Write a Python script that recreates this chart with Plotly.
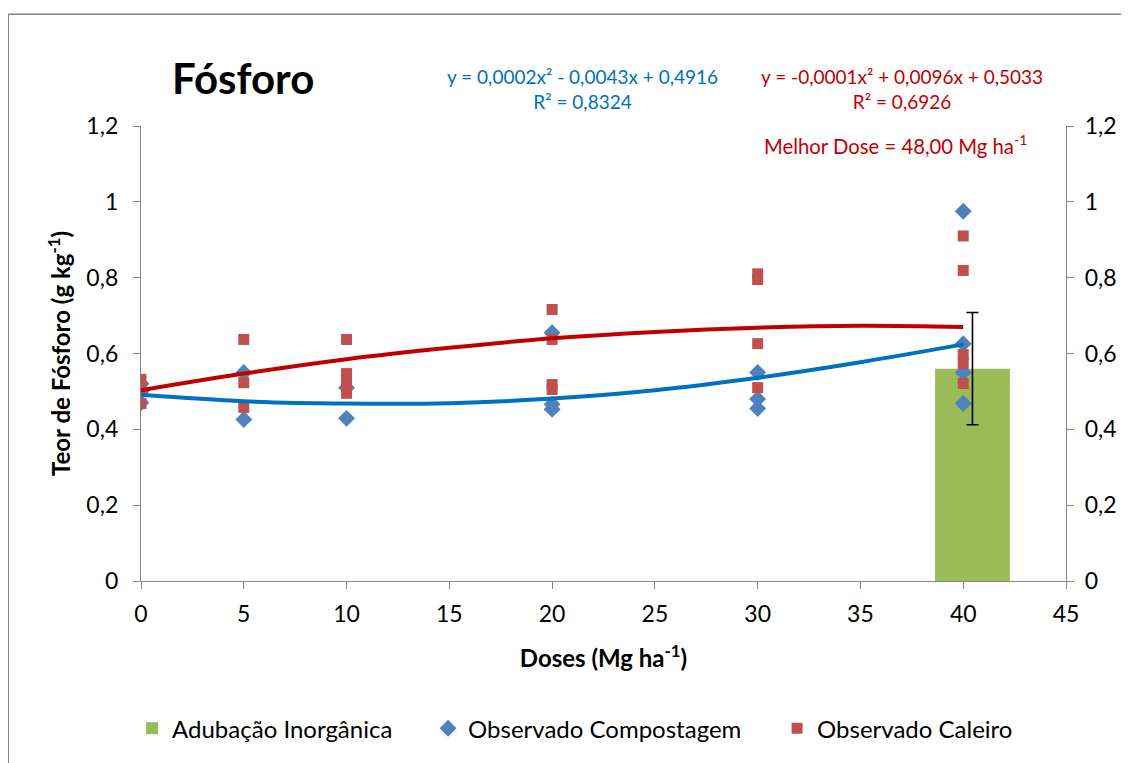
import plotly.graph_objects as go

# observed values (g kg-1) per dose (Mg ha-1)
doses_comp = [0, 0, 0, 5, 5, 10, 10, 20, 20, 20, 30, 30, 30, 40, 40, 40, 40]
teor_comp = [0.52, 0.50, 0.47, 0.55, 0.426, 0.51, 0.429, 0.655, 0.466, 0.453,
             0.55, 0.48, 0.455, 0.975, 0.626, 0.55, 0.468]

doses_cal = [0, 0, 0, 5, 5, 5, 10, 10, 10, 10, 10, 20, 20, 20, 20,
             30, 30, 30, 30, 40, 40, 40, 40, 40]
teor_cal = [0.532, 0.508, 0.468, 0.637, 0.523, 0.458, 0.637, 0.547, 0.529, 0.513, 0.495,
            0.716, 0.637, 0.518, 0.505, 0.81, 0.795, 0.626, 0.51, 0.91, 0.819, 0.597, 0.574, 0.521]

# trendlines
curve_x = [0, 5, 10, 15, 20, 25, 30, 35, 40]
curve_comp = [0.491, 0.474, 0.468, 0.469, 0.481, 0.503, 0.536, 0.577, 0.624]
curve_cal = [0.503, 0.547, 0.585, 0.615, 0.640, 0.657, 0.668, 0.673, 0.670]

# inorganic fertilization bar
bar_x = [40.45]
bar_y = [0.56]
bar_err = [0.148]

FONT = "Lato"
BLUE_TXT = "#0070C0"
RED_TXT = "#C00000"
GRAY = "#868686"
NB = "\u00a0"

# page body adds 8px, so the figure is shrunk by 8px to avoid scrollbars
FW, FH = 1121, 755
L, T, W, H = 141, 126, 927, 456


def px(x):
    return (x - L) / W


def py(y):
    return (T + H - y) / H


fig = go.Figure()

fig.add_trace(go.Bar(
    x=bar_x, y=bar_y, width=3.64,
    marker=dict(color="#9BBB59", line=dict(width=0)),
    error_y=dict(type="data", array=bar_err, color="black", thickness=1.6, width=6),
    name="Adubação Inorgânica" + NB * 5
))
fig.add_trace(go.Scatter(
    x=doses_comp, y=teor_comp, mode="markers",
    marker=dict(symbol="diamond", size=13, color="#4F81BD"),
    name="Observado Compostagem" + NB * 5
))
fig.add_trace(go.Scatter(
    x=doses_cal, y=teor_cal, mode="markers",
    marker=dict(symbol="square", size=11, color="#C0504D"),
    name="Observado Caleiro"
))
fig.add_trace(go.Scatter(
    x=curve_x, y=curve_cal, mode="lines", line=dict(color="#C00000", width=4, shape="spline"),
    showlegend=False, hoverinfo="skip"
))
fig.add_trace(go.Scatter(
    x=curve_x, y=curve_comp, mode="lines", line=dict(color="#0070C0", width=4, shape="spline"),
    showlegend=False, hoverinfo="skip"
))
# invisible copy of the bar value so the secondary (right) axis is drawn
fig.add_trace(go.Scatter(
    x=bar_x, y=bar_y, yaxis="y2", mode="markers", marker=dict(opacity=0),
    showlegend=False, hoverinfo="skip"
))

axis = dict(showline=True, linecolor=GRAY, linewidth=1.3, ticks="outside", tickcolor=GRAY,
            ticklen=7, showgrid=False, zeroline=False,
            tickfont=dict(family=FONT, size=23, color="black"))

fig.update_layout(
    width=FW, height=FH,
    margin=dict(l=L - 8, r=FW - (L + W - 8), t=T - 8, b=FH - (T + H - 8)),
    paper_bgcolor="white", plot_bgcolor="white",
    separators=",.",
    barmode="overlay",
    xaxis=dict(axis, range=[0, 45], dtick=5, ticklabelstandoff=5,
               title=dict(text="<b>Doses (Mg ha<sup>-1</sup>)</b>",
                          font=dict(family=FONT, size=24, color="black"), standoff=24)),
    yaxis=dict(axis, range=[0, 1.2], dtick=0.2, ticklabelstandoff=10,
               title=dict(text="<b>Teor de Fósforo (g kg<sup>-1</sup>)</b>",
                          font=dict(family=FONT, size=24, color="black"), standoff=8)),
    yaxis2=dict(axis, range=[0, 1.2], dtick=0.2, overlaying="y", side="right", anchor="x",
                ticklabelstandoff=6),
    legend=dict(orientation="h", x=px(576), xanchor="center", y=py(730), yanchor="middle",
                font=dict(family=FONT, size=24, color="black"), traceorder="normal"),
    showlegend=True,
    font=dict(family=FONT),
)

# chart frame
fig.add_shape(type="rect", xref="paper", yref="paper",
              x0=px(8), x1=px(1145), y0=py(780), y1=py(14),
              line=dict(color=GRAY, width=1.3), layer="below")

fig.add_annotation(text="<b>Fósforo</b>", xref="paper", yref="paper",
                   x=px(243), y=py(78), xanchor="center", yanchor="middle", showarrow=False,
                   font=dict(family=FONT, size=42, color="black"))

eq_font_b = dict(family=FONT, size=19, color=BLUE_TXT)
eq_font_r = dict(family=FONT, size=19, color=RED_TXT)
fig.add_annotation(text="y = 0,0002x² - 0,0043x + 0,4916<br>R² = 0,8324",
                   xref="paper", yref="paper", x=px(583), y=py(89),
                   xanchor="center", yanchor="middle",
                   showarrow=False, font=eq_font_b, align="center")
fig.add_annotation(text="y = -0,0001x² + 0,0096x + 0,5033<br>R² = 0,6926",
                   xref="paper", yref="paper", x=px(904), y=py(89),
                   xanchor="center", yanchor="middle",
                   showarrow=False, font=eq_font_r, align="center")
fig.add_annotation(text="Melhor Dose = 48,00 Mg ha<sup>-1</sup>",
                   xref="paper", yref="paper", x=px(897), y=py(145),
                   xanchor="center", yanchor="middle",
                   showarrow=False, font=dict(eq_font_r, size=20.3))

fig.write_html("out.html")
